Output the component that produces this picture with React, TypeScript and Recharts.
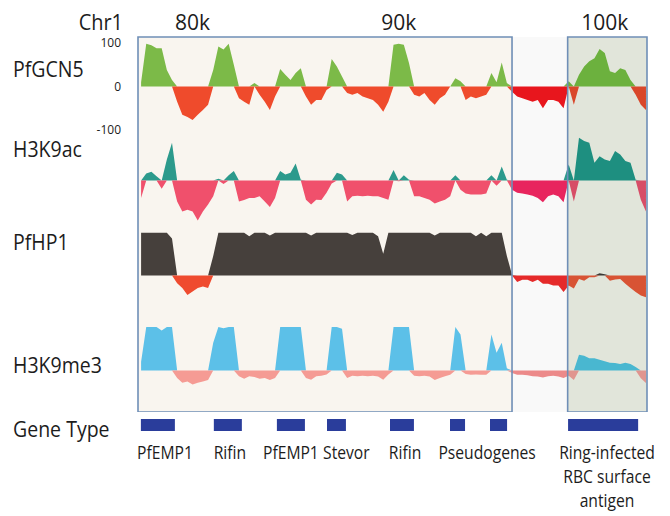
import { ComposedChart, Area, XAxis, YAxis, ReferenceArea } from 'recharts'

// signal bins along Chr1, in kb
const binStart = 77.5
const binSize = 0.25

// normalised signal, -100..100, one value per bin
const pfgcn5 = [
  10, 98, 95, 88, 88, 38, 15, -35, -65, -70,
  -77, -65, -54, -42, 38, 92, 85, 98, 50, -27,
  -35, -42, 8, -19, -35, -54, -23, 40, 27, 15,
  31, 42, -23, -42, -31, -31, -8, 63, 46, 23,
  -15, -19, -15, -23, -27, -31, -42, -58, -35, 96,
  98, 96, 54, -19, -23, -15, -31, -42, -27, -19,
  0, 19, 12, -31, -23, -27, -23, -19, 31, 10,
  55, 8, -12, -23, -27, -31, -35, -31, -50, -31,
  -31, -35, -50, 12, -42, 27, 46, 58, 65, 86,
  77, 35, 31, 42, 38, 15, -19, -42, -54,
]

const h3k9ac = [
  -40, 16, 20, 10, -19, 48, 87, -48, -71, -67,
  -71, -92, -71, -55, -36, 4, -8, 12, 22, -48,
  -45, -40, -40, -36, -48, -61, -40, 22, 14, 18,
  39, 2, -44, -55, -44, -45, -28, -7, 18, 14,
  -48, -36, -35, -36, -35, -36, -36, -40, -44, 24,
  -2, 12, 2, -36, -36, -40, -44, -53, -48, -44,
  -36, 12, -21, -30, -32, -32, -32, -30, 12, -12,
  32, 2, -21, -28, -30, -32, -35, -40, -50, -36,
  -32, -36, -50, 37, -48, 98, 91, 87, 41, 56,
  48, 45, 68, 60, 45, 41, 2, -44, -71,
]

const pfhp1 = [
  98, 98, 98, 98, 98, 98, 85, -18, -29, -45,
  -37, -29, -25, -29, 45, 98, 98, 98, 98, 98,
  98, 90, 98, 98, 98, 92, 98, 98, 98, 98,
  98, 98, 98, 92, 98, 98, 98, 98, 98, 98,
  98, 93, 98, 98, 98, 98, 90, 50, 98, 98,
  98, 98, 98, 98, 98, 98, 98, 92, 98, 98,
  98, 98, 98, 98, 98, 90, 98, 90, 98, 98,
  98, 45, 2, -15, -10, -10, -15, -10, -19, -19,
  -23, -23, -38, -23, -30, -8, -12, -4, -4, 5,
  3, -12, -9, -8, -19, -29, -38, -46, -50,
]

const h3k9me3 = [
  20, 100, 100, 100, 92, 100, 100, -17, -28, -25,
  -32, -28, -25, -22, 64, 100, 97, 100, 100, -13,
  -19, -13, -15, -19, -17, -22, -17, 100, 100, 100,
  100, 100, -17, -21, -13, -12, -9, 100, 100, 96,
  -17, -12, -13, -12, -13, -12, -14, -21, -9, 100,
  100, 100, 100, -12, -13, -12, -14, -22, -17, -13,
  -10, 100, 83, -8, -10, -9, -10, -10, 83, 41,
  64, 5, -6, -10, -10, -11, -13, -14, -16, -13,
  -12, -14, -17, -12, -22, 36, 34, 28, 28, 25,
  21, 18, 17, 15, 18, 15, 8, -18, -29,
]

const viewStart = 77.35
const viewEnd = 102.05
const clusterRegion = [77.35, 95.5]
const antigenRegion = [98.2, 102.05]
const chrTicks = [80, 90, 100]
const gcn5Ticks = [100, 0, -100]

const geneStarts = [77.49, 81.03, 84.09, 86.52, 89.58, 92.49, 94.43, 98.22]
const geneEnds = [79.14, 82.39, 85.45, 87.44, 90.74, 93.22, 95.26, 101.62]
const geneLabelPos = [78.66, 81.81, 84.77, 87.46, 90.31, 94.29, 100.11]
const geneLabels = [
  ['PfEMP1'], ['Rifin'], ['PfEMP1'], ['Stevor'], ['Rifin'], ['Pseudogenes'],
  ['Ring-infected', 'RBC surface', 'antigen'],
]

const trackSeries = [
  { key: 'gcn5', name: 'PfGCN5', values: pfgcn5 },
  { key: 'ac', name: 'H3K9ac', values: h3k9ac },
  { key: 'hp1', name: 'PfHP1', values: pfhp1 },
  { key: 'me3', name: 'H3K9me3', values: h3k9me3 },
]

const rows = pfgcn5.map((_, i) => {
  const row: Record<string, number> = { kb: binStart + i * binSize, band: 1 }
  trackSeries.forEach(t => {
    row[t.key + 'Pos'] = Math.max(t.values[i], 0)
    row[t.key + 'Neg'] = Math.min(t.values[i], 0)
  })
  return row
})

const font = "'Open Sans', sans-serif"
const ink = '#1c1c1c'
const plotLeft = 138
const plotRight = 647
const W = 670
const pad = 12

// fill colours per region: [cluster, gap, antigen box]
const trackColors: Record<string, { pos: string[]; neg: string[]; top: number; label: number }> = {
  gcn5: { pos: ['#7cba48', '#7cba48', '#6cb13e'], neg: ['#ef4b2c', '#e8161d', '#d9472a'], top: 43, label: 77 },
  ac: { pos: ['#2c9a8c', '#2c9a8c', '#1e8f80'], neg: ['#f0506c', '#e8255e', '#d74d67'], top: 137, label: 157 },
  hp1: { pos: ['#46403c', '#46403c', '#3c3936'], neg: ['#ef4b2f', '#e52a2a', '#d85334'], top: 232, label: 250 },
  me3: { pos: ['#5cc0e8', '#5cc0e8', '#49b7d0'], neg: ['#f59b94', '#ec8a8a', '#e0958f'], top: 327, label: 373 },
}

const span = viewEnd - viewStart
const cut1 = (clusterRegion[1] - viewStart) / span
const cut2 = (antigenRegion[0] - viewStart) / span

function Gradient({ id, c }: { id: string; c: string[] }) {
  return (
    <linearGradient id={id} gradientUnits="userSpaceOnUse" x1={plotLeft} x2={plotRight} y1={0} y2={0}>
      <stop offset={0} stopColor={c[0]} />
      <stop offset={cut1} stopColor={c[0]} />
      <stop offset={cut1} stopColor={c[1]} />
      <stop offset={cut2} stopColor={c[1]} />
      <stop offset={cut2} stopColor={c[2]} />
      <stop offset={1} stopColor={c[2]} />
    </linearGradient>
  )
}

function Track({ k, axis }: { k: string; axis?: boolean }) {
  const c = trackColors[k]
  return (
    <div style={{ position: 'absolute', left: 0, top: c.top - pad }}>
      <ComposedChart width={W} height={87 + 2 * pad} data={rows}
        margin={{ top: pad, right: W - plotRight, bottom: pad, left: axis ? plotLeft - 40 : plotLeft }}>
        <defs>
          <Gradient id={k + 'PosFill'} c={c.pos} />
          <Gradient id={k + 'NegFill'} c={c.neg} />
        </defs>
        <XAxis dataKey="kb" type="number" domain={[viewStart, viewEnd]} allowDataOverflow hide />
        {axis ? (
          <YAxis domain={[-100, 100]} ticks={gcn5Ticks} interval={0} width={40} axisLine={false}
            tickLine={false} tickSize={0} tickMargin={17}
            tick={{ fontSize: 12, fill: ink, fontFamily: font }} />
        ) : (
          <YAxis domain={[-100, 100]} hide />
        )}
        <Area dataKey={k + 'Pos'} type="linear" baseValue={0} fill={`url(#${k}PosFill)`} fillOpacity={1}
          stroke="none" isAnimationActive={false} />
        <Area dataKey={k + 'Neg'} type="linear" baseValue={0} fill={`url(#${k}NegFill)`} fillOpacity={1}
          stroke="none" isAnimationActive={false} />
      </ComposedChart>
    </div>
  )
}

function GeneTick(props: any) {
  const { x, y, payload } = props
  const lines = geneLabels[geneLabelPos.indexOf(payload.value)] || []
  return (
    <g transform={`translate(${x},${y}) scale(0.87,1)`}>
      {lines.map((l, j) => (
        <text key={j} x={0} y={28 + j * 24} textAnchor="middle" fontSize={18} fontFamily={font} fill={ink}>{l}</text>
      ))}
    </g>
  )
}

// hidden helper series so the band charts get a y scale
const Band = () => null

export default function App() {
  return (
    <div style={{ position: 'absolute', left: 0, top: 0, width: W, height: 516, background: '#fff', overflow: 'hidden' }}>
      {/* shaded regions + coordinate ticks */}
      <div style={{ position: 'absolute', left: 0, top: 0 }}>
        <ComposedChart width={W} height={412} data={rows} margin={{ top: 0, right: W - plotRight, bottom: 0, left: plotLeft }}>
          <XAxis dataKey="kb" type="number" orientation="top" domain={[viewStart, viewEnd]} allowDataOverflow
            ticks={chrTicks} interval={0} height={37} axisLine={false} tickLine={false} tickSize={0} tickMargin={7}
            tickFormatter={(v: number) => `${v}k`} tick={{ fontSize: 21, fill: ink, fontFamily: font }} />
          <YAxis domain={[0, 1]} allowDataOverflow hide />
          <Area dataKey="band" fill="none" stroke="none" isAnimationActive={false} />
          <ReferenceArea x1={clusterRegion[0]} x2={clusterRegion[1]} ifOverflow="visible" fill="#f9f5ef" fillOpacity={1} stroke="none" />
          <ReferenceArea x1={clusterRegion[1]} x2={antigenRegion[0]} ifOverflow="visible" fill="#f9f9f9" fillOpacity={1} stroke="none" />
          <ReferenceArea x1={antigenRegion[0]} x2={antigenRegion[1]} ifOverflow="visible" fill="#e1e5da" fillOpacity={1} stroke="none" />
        </ComposedChart>
      </div>

      <Track k="gcn5" axis />
      <Track k="ac" />
      <Track k="hp1" />
      <Track k="me3" />

      {/* region outlines drawn over the tracks */}
      <div style={{ position: 'absolute', left: 0, top: 0 }}>
        <ComposedChart width={W} height={412} data={rows} margin={{ top: 37, right: W - plotRight, bottom: 0, left: plotLeft }}>
          <XAxis dataKey="kb" type="number" domain={[viewStart, viewEnd]} allowDataOverflow hide />
          <YAxis domain={[0, 1]} allowDataOverflow hide />
          <Area dataKey="band" fill="none" stroke="none" isAnimationActive={false} />
          <ReferenceArea x1={clusterRegion[0]} x2={clusterRegion[1]} ifOverflow="visible" fill="none" fillOpacity={0} stroke="#6f8fb7" strokeWidth={1.6} />
          <ReferenceArea x1={antigenRegion[0]} x2={antigenRegion[1]} ifOverflow="visible" fill="none" fillOpacity={0} stroke="#6f8fb7" strokeWidth={1.6} />
        </ComposedChart>
      </div>

      {/* gene type row */}
      <div style={{ position: 'absolute', left: 0, top: 419 }}>
        <ComposedChart width={W} height={97} data={rows} margin={{ top: 0, right: W - plotRight, bottom: 0, left: plotLeft }}>
          <XAxis dataKey="kb" type="number" domain={[viewStart, viewEnd]} allowDataOverflow ticks={geneLabelPos}
            interval={0} height={85} axisLine={false} tickLine={false} tickSize={0} tickMargin={0}
            tick={(p: any) => <GeneTick {...p} />} />
          <YAxis domain={[0, 1]} allowDataOverflow hide />
          <Area dataKey="band" fill="none" stroke="none" isAnimationActive={false} />
          {geneStarts.map((s, i) => (
            <ReferenceArea key={i} x1={s} x2={geneEnds[i]} ifOverflow="visible" fill="#2a3d9b" fillOpacity={1} stroke="none" />
          ))}
        </ComposedChart>
      </div>

      <svg width={W} height={516} style={{ position: 'absolute', left: 0, top: 0, pointerEvents: 'none' }}>
        <text transform="translate(123,30) scale(0.95,1)" textAnchor="end" fontSize={21} fontFamily={font} fill={ink}>Chr1</text>
        {trackSeries.map(t => (
          <text key={t.key} transform={`translate(13,${trackColors[t.key].label}) scale(0.93,1)`} fontSize={21}
            fontFamily={font} fill={ink}>{t.name}</text>
        ))}
        <text transform="translate(13,437) scale(0.93,1)" fontSize={21} fontFamily={font} fill={ink}>Gene Type</text>
      </svg>
    </div>
  )
}
